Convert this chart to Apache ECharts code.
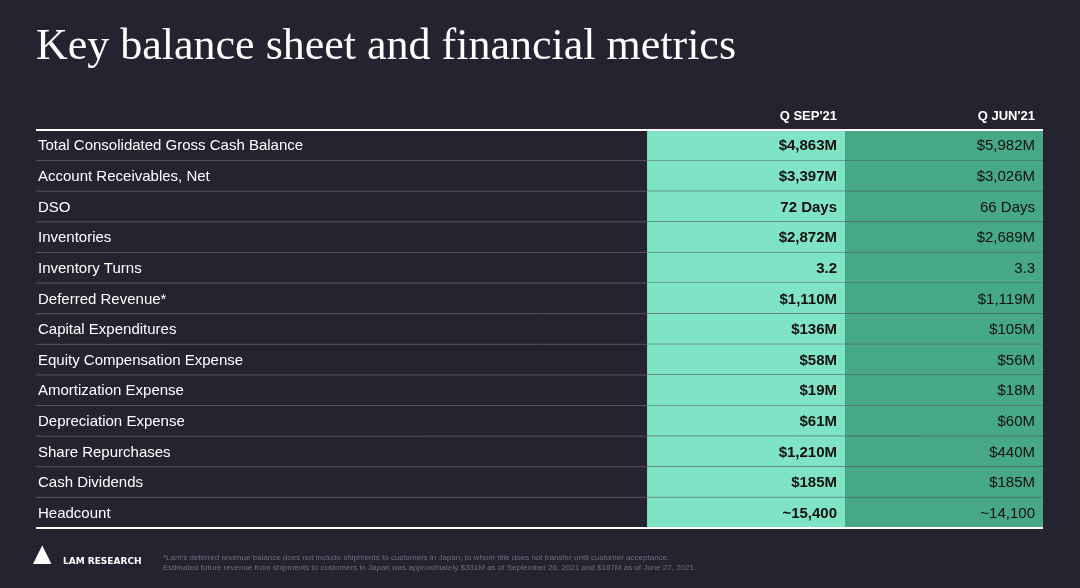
<!DOCTYPE html>
<html lang="en">
<head>
    <meta charset="UTF-8">
    <title>Key balance sheet and financial metrics</title>
    <script src="https://cdn.jsdelivr.net/npm/echarts@6/dist/echarts.min.js"></script>
    <style>
        * { margin: 0; padding: 0; }
        html, body { height: 100%; background: #24232f; }
    </style>
</head>
<body>
<div id="main" style="width: 1080px;height: 588px"></div>
<script>
    var metrics = ['Total Consolidated Gross Cash Balance', 'Account Receivables, Net', 'DSO', 'Inventories',
        'Inventory Turns', 'Deferred Revenue*', 'Capital Expenditures', 'Equity Compensation Expense',
        'Amortization Expense', 'Depreciation Expense', 'Share Repurchases', 'Cash Dividends', 'Headcount'];
    var sepValues = ['$4,863M', '$3,397M', '72 Days', '$2,872M', '3.2', '$1,110M', '$136M', '$58M',
        '$19M', '$61M', '$1,210M', '$185M', '~15,400'];
    var junValues = ['$5,982M', '$3,026M', '66 Days', '$2,689M', '3.3', '$1,119M', '$105M', '$56M',
        '$18M', '$60M', '$440M', '$185M', '~14,100'];
    var columns = ['Q SEP\'21', 'Q JUN\'21'];

    // column edges as fractions of table width
    var c1 = 0.6068, c2 = 0.8034;

    var myChart = echarts.init(document.getElementById('main'));
    var option = {
        backgroundColor: '#24232f',
        title: {
            text: 'Key balance sheet and financial metrics',
            left: 31, top: 20,
            textStyle: { color: '#fff', fontFamily: 'Liberation Serif', fontWeight: 'normal', fontSize: 44 }
        },
        grid: { left: 36, right: 37, top: 130, bottom: 60 },
        xAxis: { type: 'value', min: 0, max: 1, show: false },
        yAxis: { type: 'category', data: metrics, inverse: true, show: false },
        graphic: [
            { type: 'text', right: 1080 - 837, top: 110, style: { text: columns[0], fill: '#fff', font: 'bold 13px Liberation Sans', textAlign: 'right' } },
            { type: 'text', right: 1080 - 1035, top: 110, style: { text: columns[1], fill: '#fff', font: 'bold 13px Liberation Sans', textAlign: 'right' } },
            { type: 'text', left: 33, top: 543, style: { text: '▲', fill: '#fff', font: '24px DejaVu Sans' } },
            { type: 'text', left: 63, top: 557, style: { text: 'LAM RESEARCH', fill: '#fff', font: 'bold 9px DejaVu Sans' } },
            { type: 'text', left: 163, top: 553, style: {
                text: '*Lam\'s deferred revenue balance does not include shipments to customers in Japan, to whom title does not transfer until customer acceptance.\nEstimated future revenue from shipments to customers in Japan was approximately $331M as of September 26, 2021 and $187M as of June 27, 2021.',
                fill: '#6e6e80', font: '8px Liberation Sans', lineHeight: 10 } }
        ],
        series: [{
            type: 'custom',
            data: metrics.map(function (m, i) { return [i, m, sepValues[i], junValues[i]]; }),
            encode: { y: 0 },
            renderItem: function (params, api) {
                var i = api.value(0);
                var p0 = api.coord([0, i]);
                var p1 = api.coord([c1, i]);
                var p2 = api.coord([c2, i]);
                var p3 = api.coord([1, i]);
                var h = api.size([0, 1])[1];
                var top = p0[1] - h / 2;
                var cy = p0[1] + 1;
                var last = i === metrics.length - 1;
                var children = [
                    { type: 'rect', shape: { x: p1[0], y: top, width: p2[0] - p1[0], height: h }, style: { fill: '#7fe3c5' } },
                    { type: 'rect', shape: { x: p2[0], y: top, width: p3[0] - p2[0], height: h }, style: { fill: '#46a884' } },
                    { type: 'line', shape: { x1: p0[0], y1: top + h, x2: p3[0], y2: top + h },
                        style: { stroke: last ? '#ffffff' : '#55555f', lineWidth: last ? 2 : 1 } },
                    { type: 'text', x: p0[0] + 2, y: cy, style: { text: metrics[i], fill: '#fff', font: '15px Liberation Sans', textVerticalAlign: 'middle' } },
                    { type: 'text', x: p2[0] - 8, y: cy, style: { text: sepValues[i], fill: '#111', font: 'bold 15px Liberation Sans', textAlign: 'right', textVerticalAlign: 'middle' } },
                    { type: 'text', x: p3[0] - 8, y: cy, style: { text: junValues[i], fill: '#111', font: '15px Liberation Sans', textAlign: 'right', textVerticalAlign: 'middle' } }
                ];
                if (i === 0) {
                    children.push({ type: 'line', shape: { x1: p0[0], y1: top, x2: p3[0], y2: top }, style: { stroke: '#ffffff', lineWidth: 2 } });
                }
                return { type: 'group', children: children };
            }
        }]
    };
    myChart.setOption(option);
</script>
</body>
</html>
